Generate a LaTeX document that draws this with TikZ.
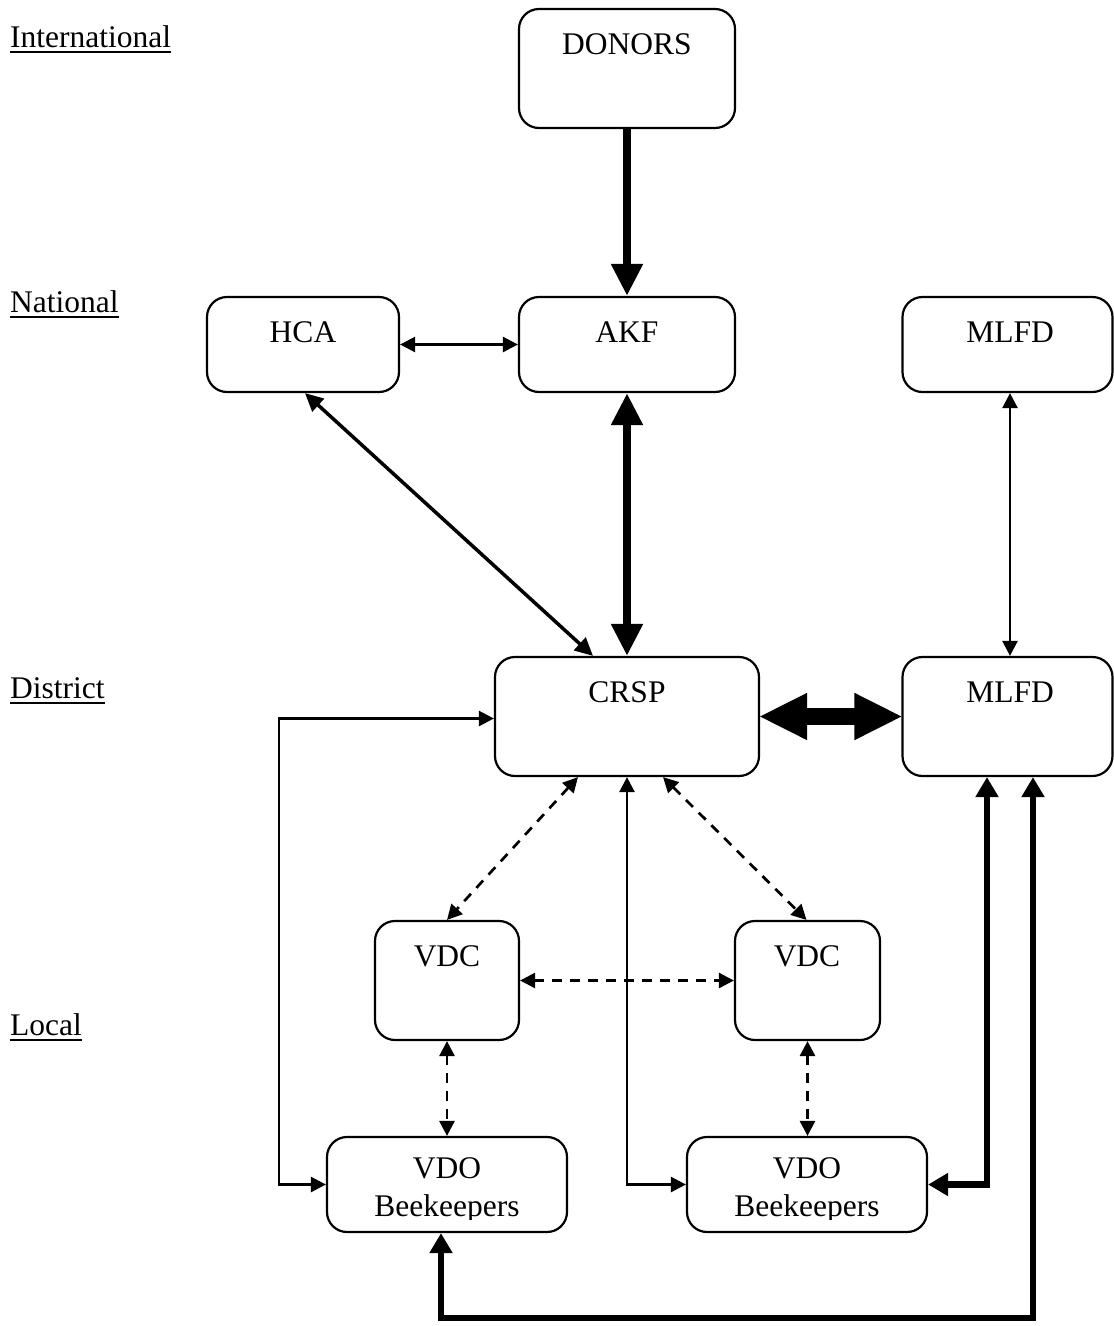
\documentclass[tikz,border=0pt]{standalone}
\usepackage{fontspec}
\setmainfont{Liberation Serif}
\usetikzlibrary{arrows.meta,calc}
\begin{document}
\begin{tikzpicture}[x=1pt,y=-1pt,
  box/.style={draw,line width=2.2pt,rounded corners=20pt,inner sep=0pt},
  txt/.style={font=\fontsize{31.5pt}{37pt}\selectfont,inner sep=0pt,anchor=base},
  lvl/.style={font=\fontsize{31.5pt}{37pt}\selectfont,inner sep=0pt,anchor=base west},
  thin/.style={line width=2.5pt,{Triangle[length=15pt,width=15pt]}-{Triangle[length=15pt,width=15pt]}},
  mid/.style={line width=3.5pt,{Triangle[length=18pt,width=17pt]}-{Triangle[length=18pt,width=17pt]}},
  heavy/.style={line width=8pt,{Triangle[length=32pt,width=30pt]}-{Triangle[length=32pt,width=30pt]}},
  thick2/.style={line width=6.5pt,{Triangle[length=20pt,width=22pt]}-{Triangle[length=20pt,width=22pt]}},
  dsh/.style={line width=2.7pt,dash pattern=on 10pt off 8pt,{Triangle[length=15pt,width=15pt]}-{Triangle[length=15pt,width=15pt]}}
]
\useasboundingbox (0,0) rectangle (1114,1326);

% level labels
\node[lvl] (intl) at (10,47) {International};
\node[lvl] (natl) at (10,312) {National};
\node[lvl] (dist) at (10,698) {District};
\node[lvl] (locl) at (10,1035) {Local};
\foreach \n in {intl,natl,dist,locl}{
  \draw[line width=2.5pt] ([yshift=-5pt]\n.base west) -- ([yshift=-5pt]\n.base east);
}

% boxes
\node[box,minimum width=216pt,minimum height=119pt] (donors) at (627,68.5) {};
\node[box,minimum width=192pt,minimum height=95pt] (hca) at (303,344.5) {};
\node[box,minimum width=216pt,minimum height=95pt] (akf) at (627,344.5) {};
\node[box,minimum width=210pt,minimum height=95pt] (mlfda) at (1007.5,344.5) {};
\node[box,minimum width=264pt,minimum height=119pt] (crsp) at (627,716.5) {};
\node[box,minimum width=210pt,minimum height=119pt] (mlfdb) at (1007.5,716.5) {};
\node[box,minimum width=144pt,minimum height=119pt] (vdcl) at (447,980.5) {};
\node[box,minimum width=145pt,minimum height=119pt] (vdcr) at (807.5,980.5) {};
\node[box,minimum width=240pt,minimum height=95pt] (vdol) at (447,1184.5) {};
\node[box,minimum width=240pt,minimum height=95pt] (vdor) at (807,1184.5) {};

% box texts
\node[txt] (tdonors) at (627,54) {DONORS};
\node[txt] (thca) at (303,342) {HCA};
\node[txt] (takf) at (627,342) {AKF};
\node[txt] (tmlfda) at (1010,342) {MLFD};
\node[txt] (tcrsp) at (627,702) {CRSP};
\node[txt] (tmlfdb) at (1010,702) {MLFD};
\node[txt] (tvdcl) at (447,966) {VDC};
\node[txt] (tvdcr) at (807,966) {VDC};
\node[txt] (tvdol) at (447,1178) {VDO};
\node[txt] (tvdor) at (807,1178) {VDO};
\begin{scope}
  \clip (327,1190) rectangle (927,1219);
  \node[txt] (tbeel) at (447,1216) {Beekeepers};
  \node[txt] (tbeer) at (807,1216) {Beekeepers};
\end{scope}

% connectors
\draw[line width=8pt,-{Triangle[length=32pt,width=30pt]}] (donors.south) -- (akf.north);
\draw[thin] (hca.east) -- (akf.west);
\draw[heavy] (akf.south) -- (crsp.north);
\draw[mid] ([xshift=2pt]hca.south) -- ([xshift=-34pt]crsp.north);
\draw[thin] ([xshift=2.5pt]mlfda.south) -- ([xshift=2.5pt]mlfdb.north);

% fat double arrow CRSP <-> MLFD
\fill (crsp.east) -- ($(crsp.east)+(47,-23.7)$) -- ($(crsp.east)+(47,-8.3)$)
  -- ($(mlfdb.west)+(-47,-8.3)$) -- ($(mlfdb.west)+(-47,-23.7)$) -- (mlfdb.west)
  -- ($(mlfdb.west)+(-47,23.7)$) -- ($(mlfdb.west)+(-47,8.3)$)
  -- ($(crsp.east)+(47,8.3)$) -- ($(crsp.east)+(47,23.7)$) -- cycle;

\draw[dsh] ([xshift=-49pt]crsp.south) -- (vdcl.north);
\draw[dsh] ([xshift=36pt]crsp.south) -- ([xshift=-1pt]vdcr.north);
\draw[dsh] (vdcl.east) -- (vdcr.west);
\draw[dsh] (vdcl.south) -- (vdol.north);
\draw[dsh] (vdcr.south) -- ([xshift=0.5pt]vdor.north);

\coordinate (lloop) at (279,950);
\draw[thin] ([yshift=-2pt]crsp.west) -| (lloop) |- (vdol.west);
\draw[thin] (crsp.south) |- (vdor.west);
\draw[thick2] ([xshift=-20.5pt]mlfdb.south) |- (vdor.east);
\coordinate (bot) at (700,1318);
\draw[thick2] ([xshift=25.5pt]mlfdb.south) |- (bot) -| ([xshift=-6pt]vdol.south);
\end{tikzpicture}
\end{document}
